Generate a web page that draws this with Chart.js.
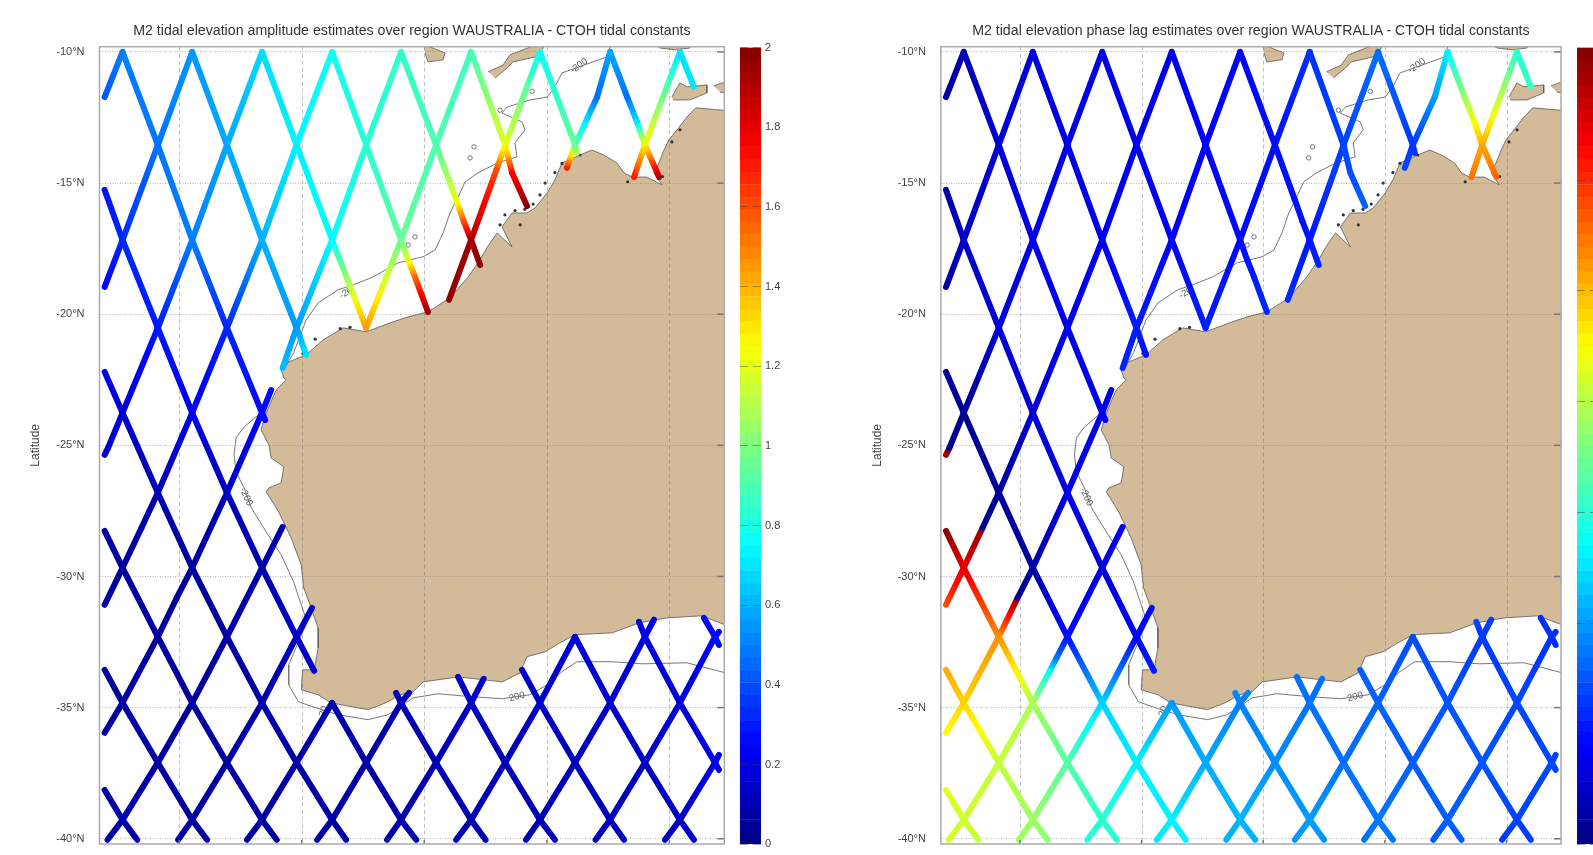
<!DOCTYPE html>
<html><head><meta charset="utf-8"><title>M2 tidal constants</title>
<script src="https://cdn.jsdelivr.net/npm/chart.js@4"></script>
<style>
html,body{margin:0;padding:0;background:#fff;overflow:hidden;width:1593px;height:855px}
#page{position:relative;width:1593px;height:855px;overflow:hidden;filter:blur(0.55px)}
canvas{position:absolute;top:0}
.plotTitle{position:absolute;top:21px;height:18px;line-height:18px;text-align:center;white-space:nowrap;font:14.2px/18px "Liberation Sans",Arial,sans-serif;color:#333}
</style></head><body><div id="page"></div>
<script>
// ---------- axes ----------
const latTicks=[-10,-15,-20,-25,-30,-35,-40];
const lonTicks=[110,115,120,125,130];
const amplitudeBarTicks=[0,0.2,0.4,0.6,0.8,1,1.2,1.4,1.6,1.8,2];
const phaseBarTicks=[0,50,100,150,200,250,300,350];
const amplitudeTitle="M2 tidal elevation amplitude estimates over region WAUSTRALIA - CTOH tidal constants";
const phaseTitle="M2 tidal elevation phase lag estimates over region WAUSTRALIA - CTOH tidal constants";
// ---------- crossover lattice of the altimeter tracks (degrees) ----------
const columnLon=[107.69,109.13,110.53,111.95,113.38,114.79,116.24,117.63,119.05,120.48,121.91,123.30,124.72,126.15,127.58,129.00,130.43,131.86];
const rowLat=[-10,-13.55,-17.17,-20.52,-23.76,-26.81,-29.67,-32.30,-34.82,-37.10,-39.28];
// amplitude (m) at crossovers, one list per row
const ampR0=[.5,.55,.68,.78,.85,.88,.76,.58,.7];
const ampR1=[.48,.58,.73,.83,.9,1.2,.95,1.27];
const ampR2=[.33,.5,.6,.75,.95,1.93];
const ampR3=[.3,.32,.55,1.45];
const ampR4=[.17,.22,.26];
const ampR5=[.1,.12];
const ampR6=[.06,.05,.09];
const ampR7=[.06,.07,.14,null,null,null,.18,.2,.27];
const ampR8=[.07,.06,.08,.09,.1,.14,.14,.15,.17];
const ampR9=[.07,.07,.08,.08,.1,.11,.12,.14,.2];
const ampR10=[.09,.07,.07,.08,.09,.1,.11,.12,.13];
// phase lag (deg) at crossovers
const phaseR0=[20,32,35,37,45,62,85,130,150];
const phaseR1=[30,36,40,46,50,68,64,255];
const phaseR2=[25,38,40,44,48,52];
const phaseR3=[32,38,55,56];
const phaseR4=[8,30,38];
const phaseR5=[10,38];
const phaseR6=[325,12,32];
const phaseR7=[265,50,45,null,null,null,72,65,62];
const phaseR8=[240,195,120,100,90,85,80,75,70];
const phaseR9=[205,165,130,105,95,85,78,75,70];
const phaseR10=[208,190,150,130,110,100,88,78,68];
const ampRows=[ampR0,ampR1,ampR2,ampR3,ampR4,ampR5,ampR6,ampR7,ampR8,ampR9,ampR10];
const phaseRows=[phaseR0,phaseR1,phaseR2,phaseR3,phaseR4,phaseR5,phaseR6,phaseR7,phaseR8,phaseR9,phaseR10];
// passes: [lattice index, first row, last row, points before, points after, points inserted after a row]
// extra points are [lon, lat, amplitude, phase]
const descendingPasses=[
[-10,10,10,[[106.96,-38.14,.08,215]],[[108.29,-40.04,.09,205]]],
[-8,8,10,[[106.96,-33.56,.07,255]],[[111.14,-40.04,.08,185]]],
[-6,6,10,[[106.96,-28.26,.07,355]],[[113.98,-40.04,.07,148]]],
[-4,4,10,[[106.96,-22.20,.2,10]],[[116.81,-40.04,.08,130]]],
[-2,2,7,[[106.96,-15.26,.28,15]],[[115.51,-33.60,.15,55]]],
[-2,8,10,[],[[119.67,-40.04,.09,108]]],
[0,0,4,[],[[113.51,-24.03,.25,38]]],
[0,8,10,[[118.85,-34.44,.1,92]],[[122.50,-40.04,.1,98]]],
[2,0,3,[],[[115.18,-21.55,.7,50]]],
[2,8,10,[[121.38,-33.83,.14,85]],[[125.33,-40.04,.11,86]]],
[4,0,3,[],[]],
[4,8,10,[[123.99,-33.56,.15,78]],[[128.15,-40.04,.12,76]]],
[6,0,2,[],[[120.15,-19.91,1.96,60]],{2:[[119.34,-17.93,1.2,50],[119.62,-18.58,1.55,55]]}],
[6,7,10,[],[[131.0,-40.04,.13,66]]],
[8,0,2,[],[[122.28,-18.12,1.98,58]],{1:[[121.30,-15.64,1.2,50],[121.62,-16.48,1.6,51]]}],
[8,7,9,[[128.76,-31.73,.19,68]],[[132.02,-37.37,.2,68]]],
[10,0,1,[],[[124.19,-15.87,1.98,80]],{1:[[123.58,-14.61,1.75,72]]}],
[10,7,7,[[131.41,-31.58,.24,60]],[[132.02,-32.61,.27,60]]],
[12,0,1,[],[[126.23,-13.85,1.1,62]]],
[14,0,1,[],[[129.58,-14.77,1.92,280]],{0:[[128.29,-11.75,.47,190],[128.68,-12.67,.7,222]]}],
[16,0,0,[],[[131.0,-11.33,.7,155]]]
];
const ascendingPasses=[
[0,0,0,[],[[106.96,-11.72,.42,12]]],
[2,0,2,[],[[106.96,-18.96,.25,12]]],
[4,0,4,[],[[107.10,-25.10,.15,6]]],
[6,0,5,[],[[108.46,-28.15,.09,5]]],
[6,6,6,[[108.46,-28.15,.09,352]],[[106.96,-31.08,.07,290]]],
[8,0,3,[],[[114.22,-22.05,.62,58]]],
[8,4,6,[[113.75,-22.89,.28,35]],[[109.9,-30.82,.06,6]]],
[8,7,8,[[109.9,-30.82,.06,352]],[[106.96,-35.96,.07,225]]],
[10,0,3,[],[]],
[10,6,10,[[114.22,-28.11,.1,45]],[[107.08,-40.04,.08,210]],{7:[[111.51,-33.09,.07,85],[111.21,-33.63,.07,135]]}],
[12,0,2,[],[[121.01,-19.45,1.97,60]],{1:[[122.94,-14.5,1.6,66]]}],
[12,7,10,[[115.42,-31.20,.15,48]],[[109.96,-40.04,.07,190]]],
[14,0,1,[],[[125.82,-14.42,1.7,70]],{0:[[127.05,-11.72,.46,100]]}],
[14,8,10,[],[[112.77,-40.04,.07,148]]],
[16,0,1,[],[[128.56,-14.77,1.7,275]]],
[16,8,10,[[119.38,-34.44,.1,92]],[[115.63,-40.04,.08,128]]],
[18,8,10,[[122.42,-33.90,.14,85]],[[118.48,-40.04,.09,108]]],
[20,7,10,[],[[121.30,-40.04,.1,98]]],
[22,7,10,[[129.37,-31.65,.19,68]],[[124.15,-40.04,.11,86]]],
[24,7,10,[[132.02,-32.11,.25,60]],[[126.99,-40.04,.12,76]]],
[26,9,10,[[132.02,-36.80,.2,68]],[[129.82,-40.04,.13,66]]]
];
const shortPasses=[[[107.10,-25.10,.15,352],[106.96,-25.36,.15,350]]];
// ---------- coast ----------
const landLon=[133,131.08,130.72,130.31,129.98,129.78,129.57,129.37,129.70,129.08,128.47,128.15,127.86,127.33,126.84,126.35,125.62,125.33,125.01,124.52,124.19,123.58,123.17,123.58,122.97,122.58,122.27,121.79,121.05,120.15,119.34,118.73,117.63,116.69,115.87,115.18,114.47,114.16,114.27,114.36,113.96,113.55,113.34,113.66,113.75,114.27,114.16,113.66,113.55,114.06,114.57,114.98,115.08,115.38,115.67,115.67,115.51,115.04,114.98,115.67,116.20,117.71,118.42,119.03,119.54,119.95,121.38,123.19,123.91,124.19,124.93,125.54,126.15,127.66,128.76,129.90,131.31,132.6,133];
const landLat=[-12.29,-12.13,-12.48,-12.97,-13.35,-13.74,-14.23,-14.61,-15.07,-14.77,-14.77,-14.61,-14.23,-13.93,-13.74,-13.93,-14.23,-14.88,-15.38,-15.95,-16.14,-16.14,-16.67,-17.43,-16.90,-17.43,-17.93,-18.58,-19.38,-19.91,-20.10,-20.29,-20.67,-20.52,-20.98,-21.55,-21.82,-22.12,-22.43,-22.50,-22.88,-23.76,-24.41,-24.98,-25.48,-25.82,-26.43,-26.62,-26.77,-27.54,-28.53,-29.56,-30.43,-31.19,-31.96,-32.72,-33.56,-33.56,-34.32,-34.51,-34.82,-35.08,-34.82,-34.51,-34.40,-34.02,-33.83,-34.02,-33.67,-33.06,-32.87,-32.53,-32.22,-32.15,-31.77,-31.58,-31.50,-31.96,-31.96];
const islandALon=[119.95,120.85,120.77,120.15,120.03],islandALat=[-9.7,-10.04,-10.30,-10.38,-10.04];
const islandBLon=[122.60,123.21,123.50,124.44,124.93,124.52,123.62,123.38,122.89],islandBLat=[-10.76,-10.50,-10.11,-9.77,-9.77,-10.19,-10.38,-10.61,-10.99];
const islandCLon=[130.10,130.43,130.72,131.53,131.53,130.84,130.15],islandCLat=[-11.72,-11.18,-11.33,-11.26,-11.56,-11.83,-11.83];
const islandDLon=[131.82,132.14,132.5,132.5,132.06],islandDLat=[-11.30,-11.18,-11.18,-11.64,-11.52];
const islandELon=[129.33,129.62,130.23,130.84,130.84],islandELat=[-9.7,-9.85,-9.92,-9.85,-9.7];
const contourNorthLon=[127.58,127.45,125.62,125.33,125.01,124.31,123.38,123.17,123.99,124.11,123.70,123.78,122.99,122.19,121.66,121.38,121.05,120.77,120.44,119.95,118.93,117.91,117.10,116.48,115.67,115.18,114.87,114.67,114.27];
const contourNorthLat=[-9.81,-10.19,-10.80,-11.33,-11.72,-11.83,-12.10,-12.33,-12.67,-12.97,-13.47,-14.00,-14.23,-14.61,-14.96,-15.53,-16.14,-16.90,-17.55,-17.81,-18.04,-18.58,-18.88,-19.07,-19.57,-20.22,-20.98,-21.47,-22.12];
const contourSouthLon=[113.47,112.65,112.32,112.24,112.32,112.65,112.94,113.55,114.16,114.67,114.98,115.22,114.87,114.47,114.47,114.87,115.59,116.48,117.71,118.52,119.54,120.56,121.99,123.19,124.31,125.01,125.62,126.23,127.66,128.88,130.72,131.49,132.6];
const contourSouthLat=[-23.65,-24.30,-24.71,-25.36,-26.01,-26.62,-27.38,-28.30,-29.17,-30.20,-31.08,-31.73,-32.49,-33.37,-34.13,-34.78,-35.01,-35.27,-35.46,-35.27,-34.63,-34.47,-34.59,-34.66,-34.51,-34.13,-33.63,-33.25,-33.25,-33.33,-33.29,-33.48,-33.75];
const contourLabelText=["-200","-20","-200","200","-20"];
const contourLabelLon=[126.31,116.81,112.73,123.78,115.87];
const contourLabelLat=[-10.53,-19.19,-26.96,-34.59,-35.20];
const contourLabelAngle=[-35,-30,65,-15,-70];
const isletLon=[121.87,122.03,119.62,119.34,123.09,124.40];
const isletLat=[-14.04,-13.62,-17.05,-17.36,-12.22,-11.50];
const speckLon=[124.72,124.44,124.93,125.33,125.62,126.00,126.35,123.29,123.70,123.09,123.91,116.57,116.97,115.05,115.55,128.30,129.72,130.43,130.10,124.1,124.25];
const speckLat=[-15.45,-15.80,-15.00,-14.60,-14.25,-14.05,-13.93,-16.21,-16.05,-16.59,-16.59,-20.55,-20.50,-21.50,-20.95,-14.95,-14.75,-12.97,-13.43,-16.0,-15.9];

// ---------- helpers ----------
const FONT='"Liberation Sans",Arial,sans-serif', TEXT='#444';
const lonRange={min:106.75,max:132.24}, latRange={min:-40.2,max:-9.8};
function clamp(v){return Math.max(0,Math.min(1,v))}
function jet(t){t=clamp(t);const c=d=>Math.round(255*clamp(1.5-Math.abs(4*t-d)));return `rgb(${c(3)},${c(2)},${c(1)})`}
function zip(lon,lat){return lon.map((x,i)=>({x,y:lat[i]}))}
function buildTracks(valueIndex,rows){
  const out=[];
  const cap=p=>({x:p[0],y:p[1],v:p[valueIndex]});
  const pass=(dir,list)=>list.forEach(([a,r0,r1,head,tail,ins])=>{
    const pts=head.map(cap);
    for(let r=r0;r<=r1;r++){
      const k=dir>0?r+a:a-r;
      pts.push({x:columnLon[k],y:rowLat[r],v:rows[r][Math.floor(k/2)]});
      if(ins&&ins[r])ins[r].forEach(p=>pts.push(cap(p)));
    }
    tail.forEach(p=>pts.push(cap(p)));
    out.push(pts);
  });
  pass(1,descendingPasses);pass(-1,ascendingPasses);
  shortPasses.forEach(s=>out.push(s.map(cap)));
  return out;
}
function segmentGradient(max){return c=>{
  const ds=c.chart.data.datasets[c.datasetIndex];
  const a=ds.data[c.p0DataIndex].v,b=ds.data[c.p1DataIndex].v;
  const g=c.chart.ctx.createLinearGradient(c.p0.x,c.p0.y,c.p1.x,c.p1.y);
  for(let i=0;i<=6;i++)g.addColorStop(i/6,jet((a+(b-a)*i/6)/max));
  return g;
}}
const polygonPlugin={id:'polygonFill',beforeDatasetDraw(chart,args){
  const ds=chart.data.datasets[args.index];if(!ds.polygon)return;
  const pts=args.meta.data,ctx=chart.ctx,a=chart.chartArea;
  ctx.save();ctx.beginPath();ctx.rect(a.left,a.top,a.width,a.height);ctx.clip();
  ctx.beginPath();pts.forEach((p,i)=>i?ctx.lineTo(p.x,p.y):ctx.moveTo(p.x,p.y));ctx.closePath();
  ctx.fillStyle=ds.polygon;ctx.fill();ctx.restore();
}};
const contourLabelPlugin={id:'contourLabels',afterDatasetsDraw(chart){
  const ctx=chart.ctx;ctx.save();ctx.font='9.5px '+FONT;ctx.fillStyle='#555';ctx.textAlign='center';ctx.textBaseline='middle';
  contourLabelText.forEach((t,i)=>{ctx.save();ctx.translate(chart.scales.x.getPixelForValue(contourLabelLon[i]),chart.scales.y.getPixelForValue(contourLabelLat[i]));ctx.rotate(contourLabelAngle[i]*Math.PI/180);ctx.fillText(t,0,0);ctx.restore();});
  ctx.restore();
}};
const lonGridPlugin={id:'lonGrid',beforeDatasetsDraw(chart){
  const a=chart.chartArea,ctx=chart.ctx,xs=chart.scales.x;ctx.save();
  ctx.strokeStyle='rgba(110,110,110,.42)';ctx.lineWidth=1;ctx.setLineDash([4,3]);
  lonTicks.forEach(v=>{const x=Math.round(xs.getPixelForValue(v))+.5;ctx.beginPath();ctx.moveTo(x,a.top);ctx.lineTo(x,a.bottom);ctx.stroke();});
  ctx.restore();
}};
const framePlugin={id:'plotFrame',afterDraw(chart){
  const a=chart.chartArea,ctx=chart.ctx,xs=chart.scales.x,ys=chart.scales.y;ctx.save();
  ctx.strokeStyle='#777';ctx.lineWidth=1.5;
  latTicks.forEach(v=>{const y=ys.getPixelForValue(v);ctx.beginPath();ctx.moveTo(a.right-7,y);ctx.lineTo(a.right,y);ctx.stroke();});
  lonTicks.forEach(v=>{const x=xs.getPixelForValue(v);ctx.beginPath();ctx.moveTo(x,a.bottom);ctx.lineTo(x,a.bottom-4);ctx.stroke();});
  ctx.strokeStyle='#aaa';ctx.strokeRect(a.left,a.top,a.width,a.height);ctx.restore();
}};
function addCanvas(left,width){const c=document.createElement('canvas');c.width=width;c.height=855;c.style.left=left+'px';c.style.width=width+'px';c.style.height='855px';document.getElementById('page').appendChild(c);return c;}
function addTitle(text,left,width){const d=document.createElement('div');d.className='plotTitle';d.textContent=text;d.style.left=left+'px';d.style.width=width+'px';document.getElementById('page').appendChild(d);}
function mapScales(yWidth,front,titleOffset){
  return {
    x:{type:'linear',display:false,...lonRange},
    y:{type:'linear',...latRange,afterFit:s=>{s.width=yWidth},afterBuildTicks:s=>{s.ticks=latTicks.map(value=>({value}))},
       ticks:{display:front,color:TEXT,font:{family:FONT,size:11},padding:0,callback:v=>v+'°N'},
       border:{display:false,dash:[1,1.5]},
       grid:{display:front,color:'rgba(120,120,120,.5)',lineWidth:1,drawTicks:true,tickLength:15,tickColor:'rgba(0,0,0,0)'},
       title:{display:front,text:'Latitude',color:TEXT,font:{family:FONT,size:12},padding:{top:titleOffset,bottom:0}}}
  };
}
function backMap(left,width,yWidth,padR){
  const poly=(lon,lat,extra)=>({data:zip(lon,lat),polygon:'#d3ba98',showLine:true,borderColor:'#5a5a5a',borderWidth:.8,pointRadius:0,...extra});
  new Chart(addCanvas(left,width),{type:'scatter',plugins:[polygonPlugin,contourLabelPlugin],data:{datasets:[
    {data:zip(contourNorthLon,contourNorthLat),showLine:true,borderColor:'#777',borderWidth:1,pointRadius:0},
    {data:zip(contourSouthLon,contourSouthLat),showLine:true,borderColor:'#777',borderWidth:1,pointRadius:0},
    {data:zip(speckLon,speckLat),pointRadius:1.6,pointBackgroundColor:'#333',pointBorderWidth:0},
    {data:zip(isletLon,isletLat),pointRadius:2.2,pointBackgroundColor:'#fff',pointBorderColor:'#555',pointBorderWidth:.8},
    poly(landLon,landLat),poly(islandALon,islandALat),poly(islandBLon,islandBLat),poly(islandCLon,islandCLat),poly(islandDLon,islandDLat),poly(islandELon,islandELat)
  ]},options:{responsive:false,animation:false,devicePixelRatio:1,
    layout:{autoPadding:false,padding:{top:46.7,right:padR,left:0,bottom:11}},
    plugins:{legend:{display:false},tooltip:{enabled:false},title:{display:false}},
    scales:mapScales(yWidth,false,0)}});
}
function frontMap(left,width,yWidth,padR,titleOffset,valueIndex,rows,max){
  const seg=segmentGradient(max);
  const datasets=buildTracks(valueIndex,rows).map(data=>({data,showLine:true,pointRadius:0,borderWidth:6,borderCapStyle:'round',borderJoinStyle:'round',borderColor:'#00f',tension:0,segment:{borderColor:seg}}));
  new Chart(addCanvas(left,width),{type:'scatter',plugins:[lonGridPlugin,framePlugin],data:{datasets},options:{responsive:false,animation:false,devicePixelRatio:1,
    layout:{autoPadding:false,padding:{top:46.7,right:padR,left:0,bottom:11}},
    plugins:{legend:{display:false},tooltip:{enabled:false},title:{display:false}},
    scales:mapScales(yWidth,true,titleOffset)}});
}
function colorBar(left,width,padL,yWidth,ticks,max){
  const levels=Array.from({length:64},(_,i)=>i);
  new Chart(addCanvas(left,width),{type:'bar',data:{labels:[''],datasets:levels.map(i=>({data:[max/64],backgroundColor:jet((i+.5)/64),borderColor:jet((i+.5)/64),borderWidth:.6,borderSkipped:false,barPercentage:1,categoryPercentage:1}))},
    options:{responsive:false,animation:false,devicePixelRatio:1,
      layout:{autoPadding:false,padding:{top:47.5,left:padL,right:0,bottom:10}},
      plugins:{legend:{display:false},tooltip:{enabled:false}},
      scales:{x:{stacked:true,display:false},
        y:{stacked:true,position:'right',min:0,max,afterFit:s=>{s.width=yWidth},afterBuildTicks:s=>{s.ticks=ticks.map(value=>({value}))},
           ticks:{color:TEXT,font:{family:FONT,size:11},padding:4,callback:v=>String(v)},
           border:{display:false,dash:[8,5]},
           grid:{z:1,color:'rgba(60,60,60,.45)',lineWidth:1,drawTicks:false}}}}});
}
backMap(0,730,99.5,5.7);
frontMap(0,730,99.5,5.7,28,2,ampRows,2);
addTitle(amplitudeTitle,99.5,624.8);
colorBar(735,65,4.8,39,amplitudeBarTicks,2);
backMap(840,730,100.9,9);
frontMap(840,730,100.9,9,30,3,phaseRows,360);
addTitle(phaseTitle,940.9,620);
colorBar(1572,60,5,34,phaseBarTicks,360);
</script></body></html>
